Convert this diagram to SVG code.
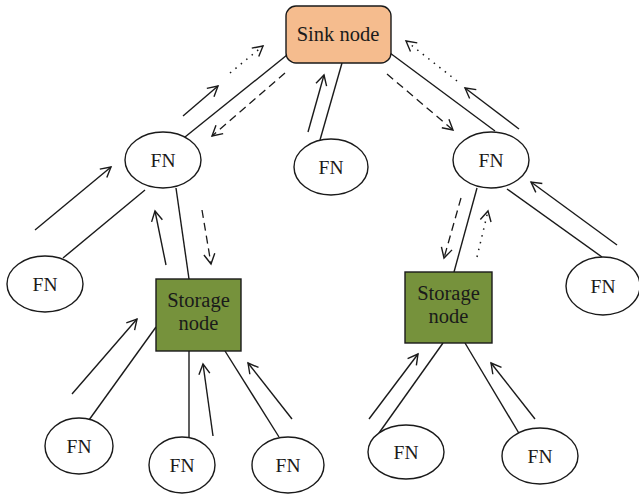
<svg xmlns="http://www.w3.org/2000/svg" width="639" height="496" viewBox="0 0 639 496">
  <style>
    .fn { fill: #ffffff; stroke: #1a1a1a; stroke-width: 1.4; }
    .sink { fill: #F5BC8E; stroke: #1a1a1a; stroke-width: 1.4; }
    .store { fill: #76923C; stroke: #1a1a1a; stroke-width: 1.4; }
    .lbl { font-family: "Liberation Serif", "Times New Roman", serif; font-size: 20.5px; fill: #1a1a1a; text-anchor: middle; }
    .lbl.fnl { font-size: 19.5px; }
    .link { stroke: #1a1a1a; stroke-width: 1.4; fill: none; }
    .up { stroke: #1a1a1a; stroke-width: 1.4; fill: none; marker-end: url(#head); }
    .dash { stroke: #1a1a1a; stroke-width: 1.3; fill: none; stroke-dasharray: 8 5; marker-end: url(#head); }
    .dot { stroke: #1a1a1a; stroke-width: 1.5; fill: none; stroke-dasharray: 1.5 5.5; marker-end: url(#head); }
  </style>
  <defs>
    <marker id="head" viewBox="-11 -7 13 14" refX="0" refY="0" markerWidth="13" markerHeight="14" markerUnits="userSpaceOnUse" orient="auto">
      <path d="M-10,-5.5 L0,0 L-10,5.5" fill="none" stroke="#1a1a1a" stroke-width="1.4" stroke-dasharray="none"/>
    </marker>
  </defs>

  <g id="connectors">
    <!-- sink to left FN -->
    <line class="link" x1="287" y1="55" x2="185" y2="137"/>
    <line class="up" x1="183" y1="116" x2="218" y2="86"/>
    <line class="dot" x1="230" y1="73" x2="263" y2="46"/>
    <line class="dash" x1="285" y1="73" x2="212" y2="136"/>
    <!-- sink to middle FN -->
    <line class="link" x1="342" y1="63" x2="320" y2="140"/>
    <line class="up" x1="308" y1="132" x2="324" y2="75"/>
    <!-- sink to right FN -->
    <line class="link" x1="390" y1="53" x2="495" y2="131"/>
    <line class="up" x1="519" y1="129" x2="465" y2="88"/>
    <line class="dot" x1="457" y1="81" x2="406" y2="41"/>
    <line class="dash" x1="387" y1="74" x2="453" y2="130"/>
    <!-- left FN to far-left FN -->
    <line class="link" x1="145" y1="190" x2="63" y2="258"/>
    <line class="up" x1="35" y1="230" x2="111" y2="167"/>
    <!-- left FN to left storage -->
    <line class="link" x1="176" y1="188" x2="189" y2="279"/>
    <line class="up" x1="166" y1="265" x2="155" y2="211"/>
    <line class="dash" x1="202" y1="210" x2="211" y2="264"/>
    <!-- right FN to right storage -->
    <line class="link" x1="477" y1="188" x2="454" y2="272"/>
    <line class="dash" x1="461" y1="198" x2="444" y2="258"/>
    <line class="dot" x1="477" y1="257" x2="488" y2="211"/>
    <!-- right FN to far-right FN -->
    <line class="link" x1="507" y1="189" x2="602" y2="257"/>
    <line class="up" x1="617" y1="245" x2="531" y2="182"/>
    <!-- left storage to bottom FNs -->
    <line class="link" x1="156" y1="327" x2="89" y2="420"/>
    <line class="up" x1="72" y1="394" x2="137" y2="319"/>
    <line class="link" x1="189" y1="351" x2="189" y2="437"/>
    <line class="up" x1="213" y1="436" x2="203" y2="364"/>
    <line class="link" x1="225" y1="351" x2="279" y2="437"/>
    <line class="up" x1="292" y1="419" x2="248" y2="363"/>
    <!-- right storage to bottom FNs -->
    <line class="link" x1="443" y1="343" x2="379" y2="433"/>
    <line class="up" x1="369" y1="419" x2="418" y2="354"/>
    <line class="link" x1="465" y1="343" x2="520" y2="435"/>
    <line class="up" x1="535" y1="419" x2="491" y2="363"/>
  </g>

  <g id="sink">
    <rect class="sink" x="286" y="6" width="105" height="57" rx="10" ry="10"/>
    <text class="lbl" x="338" y="41">Sink node</text>
  </g>

  <g id="fn-left">
    <ellipse class="fn" cx="163" cy="160" rx="38" ry="28"/>
    <text class="lbl fnl" x="163" y="167">FN</text>
  </g>
  <g id="fn-middle">
    <ellipse class="fn" cx="331" cy="167" rx="37" ry="28"/>
    <text class="lbl fnl" x="331" y="174">FN</text>
  </g>
  <g id="fn-right">
    <ellipse class="fn" cx="491" cy="160" rx="38" ry="28"/>
    <text class="lbl fnl" x="491" y="167">FN</text>
  </g>
  <g id="fn-far-left">
    <ellipse class="fn" cx="45" cy="284" rx="38" ry="28"/>
    <text class="lbl fnl" x="45" y="291">FN</text>
  </g>
  <g id="fn-far-right">
    <ellipse class="fn" cx="603" cy="286" rx="37" ry="29"/>
    <text class="lbl fnl" x="603" y="293">FN</text>
  </g>

  <g id="storage-left">
    <rect class="store" x="156" y="279" width="85" height="72"/>
    <text class="lbl" x="198.5" y="307">Storage</text>
    <text class="lbl" x="198.5" y="330">node</text>
  </g>
  <g id="storage-right">
    <rect class="store" x="405" y="272" width="87" height="71"/>
    <text class="lbl" x="448.5" y="300">Storage</text>
    <text class="lbl" x="448.5" y="323">node</text>
  </g>

  <g id="fn-bottom-1">
    <ellipse class="fn" cx="79" cy="446" rx="34" ry="28"/>
    <text class="lbl fnl" x="79" y="453">FN</text>
  </g>
  <g id="fn-bottom-2">
    <ellipse class="fn" cx="182" cy="465" rx="33" ry="28"/>
    <text class="lbl fnl" x="182" y="472">FN</text>
  </g>
  <g id="fn-bottom-3">
    <ellipse class="fn" cx="288" cy="465" rx="36" ry="28"/>
    <text class="lbl fnl" x="288" y="472">FN</text>
  </g>
  <g id="fn-bottom-4">
    <ellipse class="fn" cx="406" cy="452" rx="38" ry="27"/>
    <text class="lbl fnl" x="406" y="459">FN</text>
  </g>
  <g id="fn-bottom-5">
    <ellipse class="fn" cx="540" cy="456" rx="38" ry="28"/>
    <text class="lbl fnl" x="540" y="463">FN</text>
  </g>
</svg>
